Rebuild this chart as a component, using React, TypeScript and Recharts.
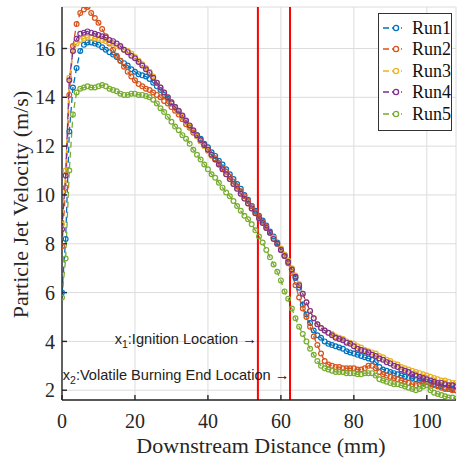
import React from 'react';
import { LineChart, Line, XAxis, YAxis, CartesianGrid, ReferenceLine, ReferenceDot } from 'recharts';

// Downstream distance (mm)
const DIST = [
  0, 1, 2, 3, 4, 5, 6, 7, 8, 9, 10, 11, 12, 13, 14, 15, 16, 17, 18, 19,
  20, 21, 22, 23, 24, 25, 26, 27, 28, 29, 30, 31, 32, 33, 34, 35, 36, 37, 38, 39,
  40, 41, 42, 43, 44, 45, 46, 47, 48, 49, 50, 51, 52, 53, 54, 55, 56, 57, 58, 59,
  60, 61, 62, 63, 64, 65, 66, 67, 68, 69, 70, 71, 72, 73, 74, 75, 76, 77, 78, 79,
  80, 81, 82, 83, 84, 85, 86, 87, 88, 89, 90, 91, 92, 93, 94, 95, 96, 97, 98, 99,
  100, 101, 102, 103, 104, 105, 106, 107, 108,
];

const RUN1 = [
  6.0, 8.2, 12.6, 14.4, 15.2, 15.9, 16.15, 16.25, 16.25, 16.2,
  16.15, 16.05, 15.95, 15.85, 15.75, 15.65, 15.5, 15.4, 15.3, 15.15,
  15.05, 14.95, 14.9, 14.85, 14.75, 14.6, 14.45, 14.3, 14.1, 13.95,
  13.75, 13.6, 13.4, 13.2, 13.0, 12.8, 12.6, 12.45, 12.3, 12.1,
  11.95, 11.75, 11.6, 11.4, 11.25, 11.05, 10.85, 10.65, 10.45, 10.25,
  10.0, 9.8, 9.55, 9.35, 9.15, 8.95, 8.75, 8.5, 8.3, 8.05,
  7.8, 7.55, 7.3, 6.95, 6.6, 6.2, 5.5, 5.1, 4.75, 4.45,
  4.25, 4.15, 4.0, 3.9, 3.85, 3.8, 3.75, 3.7, 3.6, 3.55,
  3.5, 3.45, 3.4, 3.35, 3.3, 3.25, 3.15, 2.95, 2.85, 2.8,
  2.75, 2.7, 2.65, 2.6, 2.55, 2.5, 2.5, 2.45, 2.4, 2.35,
  2.35, 2.3, 2.25, 2.2, 2.15, 2.1, 2.05, 2.05, 2.0,
];

const RUN2 = [
  7.9, 10.3, 14.1, 16.1, 17.0, 17.45, 17.6, 17.7, 17.45, 17.25,
  17.05, 16.8, 16.5, 16.2, 15.95, 15.7, 15.5, 15.25, 15.05, 14.85,
  14.7, 14.55, 14.45, 14.35, 14.3, 14.2, 14.1, 14.0, 13.85, 13.75,
  13.6, 13.45, 13.3, 13.1, 12.9, 12.75, 12.55, 12.4, 12.2, 12.05,
  11.85, 11.65, 11.5, 11.3, 11.1, 10.95, 10.75, 10.55, 10.35, 10.15,
  9.95, 9.75, 9.55, 9.3, 9.1, 8.9, 8.7, 8.45, 8.25, 8.0,
  7.75, 7.5, 7.2, 6.8, 6.3, 5.8, 5.35, 5.0, 4.6, 4.2,
  3.85, 3.5, 3.2, 3.05, 3.0, 2.95, 2.95, 2.9, 2.9, 2.9,
  2.9, 2.85, 2.85, 2.9, 3.0, 3.0, 2.9, 2.75, 2.65, 2.6,
  2.55, 2.5, 2.45, 2.4, 2.35, 2.3, 2.25, 2.2, 2.25, 2.3,
  2.35, 2.25, 2.2, 2.15, 2.1, 2.05, 2.05, 2.0, 2.0,
];

const RUN3 = [
  8.8, 11.0, 14.8, 15.9, 16.2, 16.35, 16.4, 16.45, 16.45, 16.4,
  16.4, 16.35, 16.3, 16.25, 16.2, 16.1, 16.05, 15.95, 15.9, 15.8,
  15.65, 15.5, 15.35, 15.2, 15.05, 14.85, 14.6, 14.4, 14.2, 14.0,
  13.8, 13.6, 13.4, 13.2, 13.0, 12.8, 12.6, 12.4, 12.2, 12.0,
  11.8, 11.6, 11.45, 11.25, 11.05, 10.85, 10.65, 10.45, 10.25, 10.05,
  9.85, 9.65, 9.45, 9.25, 9.05, 8.85, 8.65, 8.45, 8.25, 8.0,
  7.8, 7.55, 7.3, 7.0, 6.7, 6.35, 5.95, 5.6, 5.25, 4.95,
  4.7, 4.55, 4.45, 4.35, 4.3, 4.2, 4.15, 4.1, 4.0, 3.95,
  3.9, 3.8, 3.75, 3.65, 3.6, 3.55, 3.5, 3.4, 3.35, 3.25,
  3.2, 3.1, 3.05, 2.95, 2.9, 2.85, 2.8, 2.75, 2.7, 2.65,
  2.6, 2.55, 2.5, 2.45, 2.4, 2.4, 2.35, 2.3, 2.3,
];

const RUN4 = [
  8.6, 10.8, 14.7, 15.9, 16.4, 16.6, 16.65, 16.7, 16.65, 16.6,
  16.55, 16.5, 16.45, 16.35, 16.3, 16.2, 16.1, 15.95, 15.85, 15.7,
  15.6, 15.45, 15.3, 15.15, 15.0, 14.8, 14.6, 14.4, 14.2, 14.0,
  13.8, 13.6, 13.45, 13.25, 13.05, 12.85, 12.65, 12.45, 12.25, 12.05,
  11.85, 11.65, 11.45, 11.25, 11.05, 10.85, 10.65, 10.45, 10.25, 10.05,
  9.85, 9.65, 9.45, 9.25, 9.05, 8.85, 8.65, 8.45, 8.2, 8.0,
  7.75, 7.5, 7.25, 6.95, 6.65, 6.3, 5.95, 5.6, 5.25, 4.95,
  4.7, 4.55, 4.45, 4.35, 4.25, 4.15, 4.1, 4.05, 3.95, 3.9,
  3.8, 3.7, 3.65, 3.6, 3.55, 3.45, 3.4, 3.3, 3.25, 3.15,
  3.1, 3.0, 2.95, 2.85, 2.8, 2.75, 2.65, 2.6, 2.55, 2.5,
  2.45, 2.4, 2.35, 2.3, 2.3, 2.25, 2.2, 2.2, 2.15,
];

const RUN5 = [
  5.8, 7.4, 11.0, 13.3, 14.2, 14.35, 14.4, 14.45, 14.4, 14.4,
  14.45, 14.5, 14.45, 14.35, 14.3, 14.25, 14.15, 14.1, 14.1, 14.15,
  14.15, 14.1, 14.1, 14.05, 14.0, 13.9, 13.75, 13.55, 13.4, 13.2,
  13.0, 12.8, 12.65, 12.45, 12.3, 12.1, 11.85, 11.65, 11.45, 11.25,
  11.05, 10.85, 10.7, 10.5, 10.3, 10.1, 9.95, 9.75, 9.55, 9.35,
  9.15, 9.0, 8.8, 8.55, 8.3, 8.05, 7.75, 7.45, 7.15, 6.85,
  6.5, 6.05, 5.75, 5.35, 4.95, 4.6, 4.3, 4.0, 3.7, 3.45,
  3.2, 3.0, 2.9, 2.85, 2.8, 2.75, 2.75, 2.75, 2.7, 2.7,
  2.7, 2.65, 2.65, 2.7, 2.7, 2.7, 2.6, 2.45, 2.4, 2.35,
  2.3, 2.25, 2.25, 2.2, 2.15, 2.1, 2.05, 2.0, 2.05, 2.15,
  2.2, 2.0, 1.9, 1.85, 1.8, 1.75, 1.7, 1.7, 1.65,
];

const SERIES_NAMES = ['Run1', 'Run2', 'Run3', 'Run4', 'Run5'];
const SERIES_KEYS = ['run1', 'run2', 'run3', 'run4', 'run5'];
const SERIES_COLORS = ['#0072BD', '#D95319', '#EDB120', '#7E2F8E', '#77AC30'];

const X_TICKS = [0, 20, 40, 60, 80, 100];
const Y_TICKS = [2, 4, 6, 8, 10, 12, 14, 16];
const X_DOMAIN = [0, 108];
const Y_DOMAIN = [1.6, 17.7];

const IGNITION_X = 53.7;
const VOLATILE_END_X = 62.5;

const data = DIST.map((d, i) => ({
  d,
  run1: RUN1[i],
  run2: RUN2[i],
  run3: RUN3[i],
  run4: RUN4[i],
  run5: RUN5[i],
}));

const SERIF = '"Liberation Serif", "Times New Roman", serif';
const SANS = '"Liberation Sans", Arial, sans-serif';
const AXIS = '#262626';

const YLabel = (props: any) => {
  const vb = props.viewBox || {};
  const cx = 28;
  const cy = vb.y + vb.height / 2 + 1;
  return (
    <text x={cx} y={cy} transform={`rotate(-90, ${cx}, ${cy})`} textAnchor="middle"
      fontFamily={SERIF} fontSize={22} fill={AXIS}>
      Particle Jet Velocity (m/s)
    </text>
  );
};

const XLabel = (props: any) => {
  const vb = props.viewBox || {};
  return (
    <text x={vb.x + vb.width / 2 + 2} y={453} textAnchor="middle"
      fontFamily={SERIF} fontSize={22} fill={AXIS}>
      Downstream Distance (mm)
    </text>
  );
};

const Annot = ({ cx, cy, sub, label }: any) => (
  <text x={cx} y={cy} textAnchor="end" fontFamily={SANS} fontSize={14.6} fill="#222">
    x<tspan fontSize={10.5} dy={4}>{sub}</tspan>
    <tspan dy={-4}>{label}</tspan>
  </text>
);

export default function App() {
  return (
    <div style={{ position: 'absolute', left: 0, top: 0, width: 457, height: 462, background: '#fff' }}>
      <LineChart width={457} height={462} data={data} margin={{ top: 7, right: 1, bottom: 0, left: 0 }}>
        <CartesianGrid stroke="#dcdcdc" strokeWidth={1} />
        <XAxis dataKey="d" type="number" domain={X_DOMAIN} ticks={X_TICKS} allowDataOverflow
          height={62} tickSize={-5} tickMargin={19} stroke={AXIS} strokeWidth={1.4}
          tick={{ fontFamily: SERIF, fontSize: 20, fill: AXIS }} label={<XLabel />} />
        <XAxis xAxisId="top" orientation="top" dataKey="d" type="number" domain={X_DOMAIN} ticks={X_TICKS}
          allowDataOverflow height={0} tickSize={-5} tick={false} stroke={AXIS} strokeWidth={1.4} />
        <YAxis type="number" domain={Y_DOMAIN} ticks={Y_TICKS} allowDataOverflow width={62}
          tickSize={-5} tickMargin={12} stroke={AXIS} strokeWidth={1.4}
          tick={{ fontFamily: SERIF, fontSize: 20, fill: AXIS }} label={<YLabel />} />
        <YAxis yAxisId="right" orientation="right" type="number" domain={Y_DOMAIN} ticks={Y_TICKS}
          allowDataOverflow width={0} tickSize={-5} tick={false} stroke={AXIS} strokeWidth={1.4} />
        {SERIES_KEYS.map((k, i) => (
          <Line key={k} dataKey={k} name={SERIES_NAMES[i]} type="linear" stroke={SERIES_COLORS[i]}
            strokeWidth={1.3} strokeDasharray="6 4"
            dot={{ r: 2.4, fill: 'none', stroke: SERIES_COLORS[i], strokeWidth: 1.2, strokeDasharray: '' }}
            isAnimationActive={false} />
        ))}
        <ReferenceLine x={IGNITION_X} stroke="#ff0000" strokeWidth={2} />
        <ReferenceLine x={VOLATILE_END_X} stroke="#ff0000" strokeWidth={2} />
        <ReferenceDot x={53.4} y={3.9} r={0}
          shape={(p: any) => <Annot cx={p.cx} cy={p.cy} sub="1" label=":Ignition Location →" />} />
        <ReferenceDot x={62.3} y={2.4} r={0}
          shape={(p: any) => <Annot cx={p.cx} cy={p.cy} sub="2" label=":Volatile Burning End Location →" />} />
      </LineChart>
      <div style={{
        position: 'absolute', left: 378, top: 13, width: 72, height: 112,
        border: `1.5px solid #333`, background: '#fff', padding: '2px 0',
        fontFamily: SERIF, fontSize: 18, color: '#111',
      }}>
        {SERIES_NAMES.map((n, i) => (
          <div key={n} style={{ display: 'flex', alignItems: 'center', height: 21.5, marginTop: i === 0 ? 1 : 0 }}>
            <svg width={30} height={12} style={{ marginLeft: 3 }}>
              <line x1={1} y1={6} x2={20} y2={6} stroke={SERIES_COLORS[i]} strokeWidth={1.5} strokeDasharray="6 3" />
              <circle cx={14} cy={6} r={2.6} fill="#fff" stroke={SERIES_COLORS[i]} strokeWidth={1.3} />
            </svg>
            <span style={{ lineHeight: '18px' }}>{n}</span>
          </div>
        ))}
      </div>
    </div>
  );
}
